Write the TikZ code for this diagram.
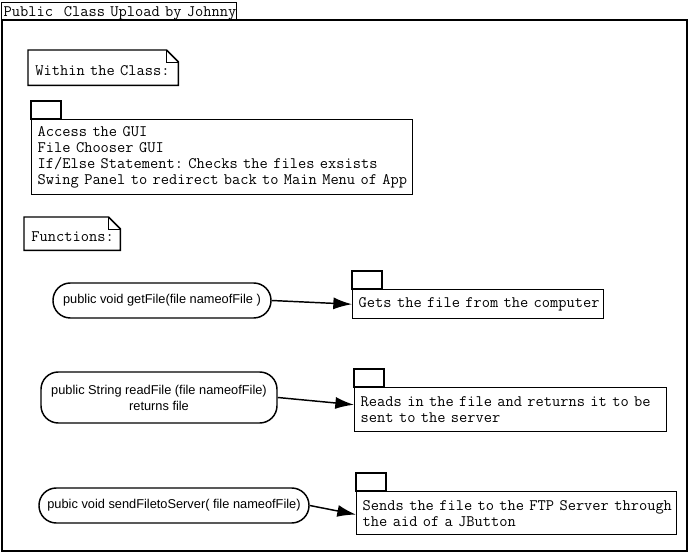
\documentclass[tikz,border=0pt]{standalone}
\usepackage{fontspec}
\setsansfont{Liberation Sans}
\newcommand\monosize{\ttfamily\fontsize{12}{12}\selectfont}
\usetikzlibrary{positioning,arrows.meta}

\begin{document}
\begin{tikzpicture}[x=0.75pt,y=-0.75pt,line width=1.1pt,
	mono/.style={font=\monosize},
	note/.style={mono,align=left,inner xsep=5pt,anchor=north west,minimum height=#1},
	note/.default=25pt,
	pkg/.style={mono,draw,align=left,inner xsep=4.5pt,inner ysep=0pt,anchor=north west,minimum height=#1},
	pkg/.default=22pt,
	func/.style={draw,rounded corners=13pt,font=\sffamily\fontsize{9.6}{12}\selectfont,align=center,inner sep=0pt,minimum height=26.25pt},
	call/.style={-{Latex[length=14pt,width=9pt]}},
	]
	\useasboundingbox (0,0) rectangle (689,555);
	%Frame and title
	\draw (2,20) rectangle (687,551);
	\node[mono,draw,anchor=north west,inner xsep=1.5pt,inner ysep=0pt,minimum height=13.5pt,minimum width=176.25pt,align=left,text width=173.25pt] (title) at (1,2) {\raisebox{-1pt}[7pt][2pt]{Public\ \ Class Upload by Johnny}};
	%Notes
	\node[note=25.5pt,text width=101.75pt] (within) at (28,50) {\raisebox{-3pt}[7pt][2pt]{Within the Class:}};
	\node[note=24pt,text width=61.25pt] (functions) at (24,217) {\raisebox{-3pt}[7pt][2pt]{Functions:}};
	\foreach \n in {within,functions}{
		\draw (\n.south west) -- (\n.north west) -- ([xshift=-9pt]\n.north east) -- ([yshift=-9pt]\n.north east) -- (\n.south east) -- cycle;
		\draw[line width=0.5pt] ([xshift=-9pt]\n.north east) |- ([yshift=-9pt]\n.north east);
	}
	%Packages
	\node[pkg=56.25pt,text width=276.75pt] (inner) at (31,119) {\mbox{Access the GUI}\\\mbox{File Chooser GUI}\\\mbox{If/Else Statement:\ Checks the files exsists}\\\mbox{Swing Panel to redirect back to Main Menu of App}};
	\node[pkg=21.75pt,text width=179.25pt] (getpkg) at (352,289) {\mbox{Gets the file from the computer}};
	\node[pkg=33pt,text width=225pt] (readpkg) at (354,387) {\mbox{Reads in the file and returns it to be}\\\mbox{sent to the server}};
	\node[pkg=32.25pt,text width=231pt] (sendpkg) at (356,491) {\mbox{Sends the file to the FTP Server through}\\\mbox{the aid of a JButton}};
	\foreach \p in {inner,getpkg,readpkg,sendpkg}
		\draw (\p.north west) rectangle ++(22.5pt,13.5pt);
	%Functions
	\node[func,minimum width=163.5pt] (getfile) at (162,300.5) {public void getFile(file nameofFile )};
	\node[func,minimum width=177pt,minimum height=38.25pt] (readfile) at (159,397.5) {public String readFile (file nameofFile)\\returns file};
	\node[func,minimum width=202.5pt] (sendfile) at (174,505.5) {pubic void sendFiletoServer( file nameofFile)};
	%Calls
	\draw[call] (getfile.east) -- (getpkg.west);
	\draw[call] (readfile.east) -- ([yshift=3.75pt]readpkg.west);
	\draw[call] (sendfile.east) -- ([yshift=-1pt]sendpkg.west);
\end{tikzpicture}
\end{document}
